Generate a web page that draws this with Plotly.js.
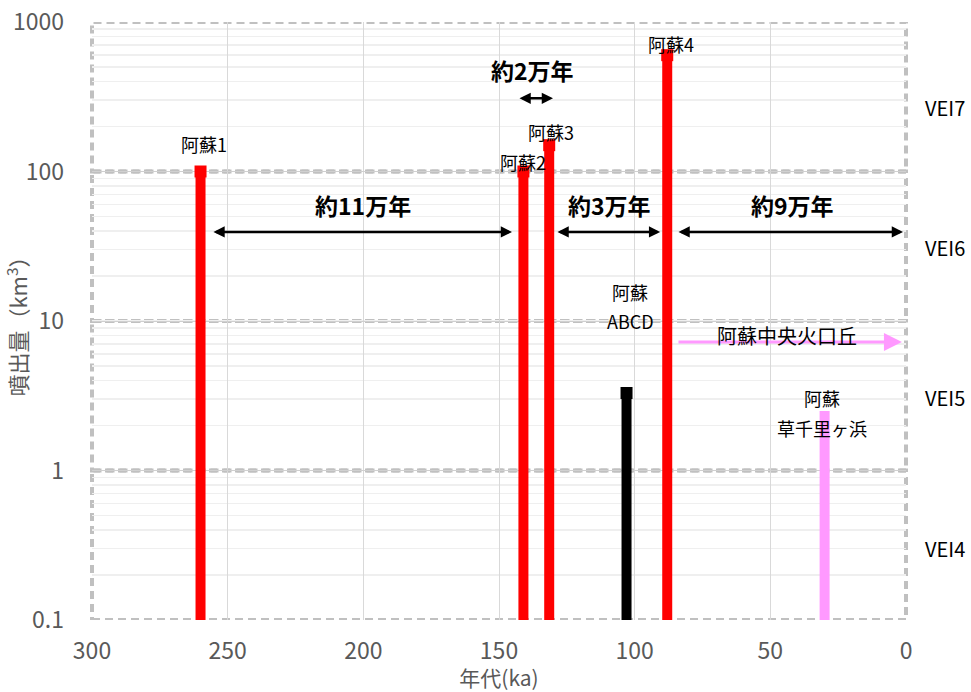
<!DOCTYPE html>
<html><head><meta charset="utf-8">
<script src="https://cdn.plot.ly/plotly-3.0.1.min.js"></script>
<style>body{margin:0;background:#fff}#chart{width:971px;height:692px}</style>
</head><body><div id="chart"></div>
<script>
// Eruptions: age (ka), volume (km3)
const names   = ["阿蘇1", "阿蘇2", "阿蘇3", "阿蘇ABCD", "阿蘇4", "阿蘇草千里ヶ浜"];
const ages    = [260, 141, 131.5, 103, 88, 30];
const volumes = [100, 100, 150, 3.3, 600, 2.5];
const colors  = ["#ff0000", "#ff0000", "#ff0000", "#000000", "#ff0000", "#ff99ff"];
const caps    = [true, true, true, true, true, false];
const baseVal = 0.1;

const xTicks = [300, 250, 200, 150, 100, 50, 0];
const yTicks = [0.1, 1, 10, 100, 1000];
const yTickText = ["0.1", "1", "10", "100", "1000"];

// VEI bands
const veiLabels = ["VEI7", "VEI6", "VEI5", "VEI4"];
const veiY = [270, 31, 3.1, 0.3];
const veiBands = [[100, 1000], [10, 100], [1, 10], [0.1, 1]];

// interval arrows [from ka, to ka, arrow y, label, label x, label y]
const intervals = [
  [255.8, 145.2, 39.4, "約11万年", 200, 60],
  [143, 130.1, 309, "約2万年", 137.6, 480],
  [129, 90.6, 39.4, "約3万年", 109.4, 60],
  [84.4, 1.1, 39.4, "約9万年", 41.8, 60]
];
// central cones arrow [from, to, y, label, label x, label y]
const coneArrow = [84.4, 1.5, 7.24, "阿蘇中央火口丘", 43.8, 8.06];

// label annotations [text, x ka, y value]
const labels = [
  ["阿蘇1", 258.7, 153],
  ["阿蘇2", 141.1, 116],
  ["阿蘇3", 130.8, 184],
  ["阿蘇4", 86.6, 713],
  ["阿蘇", 101.7, 15.6],
  ["ABCD", 101.7, 10.0],
  ["阿蘇", 30.9, 3.06],
  ["草千里ヶ浜", 30.9, 1.92]
];

const traces = [];
for (let i = 0; i < ages.length; i++) {
  traces.push({
    x: [ages[i], ages[i]], y: [baseVal, volumes[i]],
    mode: "lines", type: "scatter",
    line: {color: colors[i], width: 10},
    hoverinfo: "skip", showlegend: false, cliponaxis: false
  });
  if (caps[i]) {
    traces.push({
      x: [ages[i]], y: [volumes[i]], mode: "markers", type: "scatter",
      marker: {symbol: "square", size: 12, color: colors[i]},
      showlegend: false, hoverinfo: "skip"
    });
  }
}

const cjk = "'Noto Sans CJK JP', 'Noto Sans', sans-serif";
const numFont = "'Liberation Sans Narrow', 'Noto Sans CJK JP', sans-serif";

const shapes = [];
const dashed = {color: "#c0c0c0", width: 4, dash: "8px,5px"};
veiBands.forEach(b => {
  shapes.push({type: "rect", xref: "x domain", yref: "y", x0: 0, x1: 1, y0: b[0], y1: b[1],
    line: dashed, layer: "below"});
});

const annotations = [];
veiLabels.forEach((t, i) => annotations.push({
  text: t, xref: "paper", x: 1.048, xanchor: "center", yref: "y", y: Math.log10(veiY[i]),
  showarrow: false, font: {family: numFont, size: 20, color: "#000"}
}));
intervals.forEach(a => {
  annotations.push({x: a[1], y: Math.log10(a[2]), ax: a[0], ay: Math.log10(a[2]),
    xref: "x", yref: "y", axref: "x", ayref: "y", text: "", showarrow: true,
    arrowhead: 2, startarrowhead: 2, arrowside: "end+start", arrowsize: 0.9, arrowwidth: 2.5, arrowcolor: "#000"});
  annotations.push({x: a[4], y: Math.log10(a[5]), xref: "x", yref: "y", text: "<b>" + a[3] + "</b>",
    showarrow: false, font: {family: cjk, size: 23, color: "#000"}});
});
annotations.push({x: coneArrow[1], y: Math.log10(coneArrow[2]), ax: coneArrow[0], ay: Math.log10(coneArrow[2]),
  xref: "x", yref: "y", axref: "x", ayref: "y", text: "", showarrow: true,
  arrowhead: 2, arrowsize: 1.2, arrowwidth: 3, arrowcolor: "#ff99ff"});
annotations.push({x: coneArrow[4], y: Math.log10(coneArrow[5]), xref: "x", yref: "y", text: coneArrow[3],
  showarrow: false, font: {family: cjk, size: 20, color: "#000"}});
labels.forEach(l => annotations.push({x: l[1], y: Math.log10(l[2]), xref: "x", yref: "y",
  text: l[0], showarrow: false, font: {family: cjk, size: 18, color: "#000"}}));

const layout = {
  width: 971, height: 692,
  margin: {l: 92, r: 65, t: 22, b: 72},
  paper_bgcolor: "#fff", plot_bgcolor: "#fff",
  xaxis: {
    range: [300, 0], tickvals: xTicks, ticktext: xTicks.map(String),
    showgrid: true, gridcolor: "#d9d9d9", gridwidth: 1, zeroline: false,
    showline: false, ticks: "", ticklabelstandoff: 15,
    tickfont: {family: numFont, size: 23, color: "#595959"},
    title: {text: "年代(ka)", font: {family: cjk, size: 21, color: "#595959"}, standoff: 1}
  },
  yaxis: {
    type: "log", range: [-1, 3], tickvals: yTicks, ticktext: yTickText,
    showgrid: true, gridcolor: "#d0d0d0", gridwidth: 1, zeroline: false,
    showline: false, ticks: "", ticklabelstandoff: 27,
    tickfont: {family: numFont, size: 23, color: "#595959"},
    minor: {showgrid: true, gridcolor: "#efefef", gridwidth: 1.5, dtick: "D1"},
    title: {text: "噴出量（km<sup>3</sup>）", font: {family: cjk, size: 22, color: "#595959"}, standoff: 2}
  },
  shapes: shapes,
  annotations: annotations,
  showlegend: false
};

Plotly.newPlot("chart", traces, layout, {displayModeBar: false, staticPlot: true});
</script></body></html>
